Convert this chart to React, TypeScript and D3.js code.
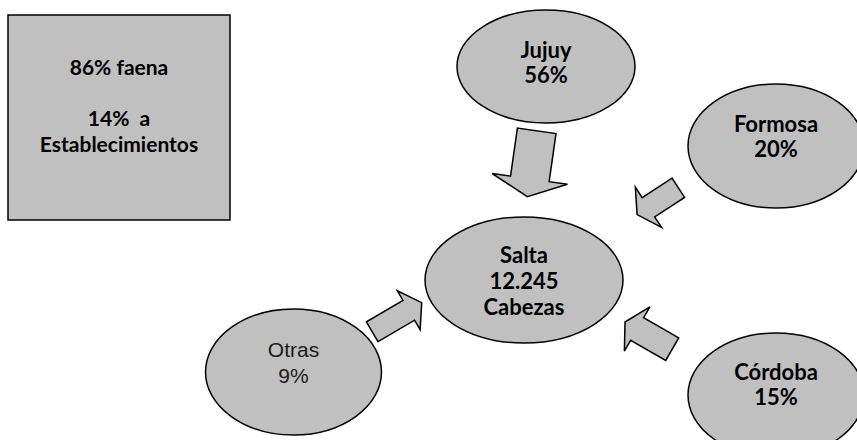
import React from "react";
import * as d3 from "d3";

// ---- data ----
const origins = ["Jujuy", "Formosa", "Córdoba", "Otras"];
const originShares = ["56%", "20%", "15%", "9%"];
const destination = "Salta";
const destinationTotal = "12.245";
const destinationUnit = "Cabezas";
const destinoLines = ["86% faena", "", "14%\u00a0\u00a0a", "Establecimientos"];

// ---- layout (positions / styles only) ----
const W = 857;
const H = 440;
const FILL = "#c0c0c0";
const BOLD = "Lato, 'Open Sans', sans-serif";

type Node = { cx: number; cy: number; rx: number; ry: number; dy: number; regular?: boolean };
const originLayout: Node[] = [
  { cx: 546, cy: 66.5, rx: 89, ry: 56.5, dy: -8.5 },
  { cx: 776, cy: 146, rx: 88, ry: 62, dy: -14 },
  { cx: 776, cy: 395, rx: 88, ry: 62, dy: -15 },
  { cx: 293.5, cy: 372, rx: 88, ry: 63, dy: -15, regular: true },
];
const destLayout: Node = { cx: 524, cy: 280, rx: 99, ry: 63, dy: -17 };

type Arrow = { t: [number, number]; p: [number, number]; sw: number; hw: number; hl: number };
const arrowLayout: Arrow[] = [
  { t: [536.7, 130.8], p: [527.3, 196.7], sw: 39, hw: 76, hl: 18 },
  { t: [678.3, 187.8], p: [637.1, 214.6], sw: 23, hw: 48, hl: 13.5 },
  { t: [672.2, 349.2], p: [625, 322], sw: 26, hw: 51, hl: 14 },
  { t: [372.2, 331.7], p: [421.7, 302.7], sw: 23, hw: 45, hl: 15 },
];

function arrowPoints(a: Arrow): [number, number][] {
  const [tx, ty] = a.t;
  const [px, py] = a.p;
  const L = Math.hypot(px - tx, py - ty);
  const ux = (px - tx) / L;
  const uy = (py - ty) / L;
  const nx = -uy;
  const ny = ux;
  const hx = px - ux * a.hl;
  const hy = py - uy * a.hl;
  const s = a.sw / 2;
  const h = a.hw / 2;
  return [
    [tx + nx * s, ty + ny * s],
    [hx + nx * s, hy + ny * s],
    [hx + nx * h, hy + ny * h],
    [px, py],
    [hx - nx * h, hy - ny * h],
    [hx - nx * s, hy - ny * s],
    [tx - nx * s, ty - ny * s],
  ];
}

const lineGen = d3.line<[number, number]>().curve(d3.curveLinearClosed);

function Label({ x, y, lines, regular, lh }: { x: number; y: number; lines: string[]; regular?: boolean; lh: number }) {
  return (
    <text
      x={x}
      y={y}
      textAnchor="middle"
      fontFamily={regular ? "'Liberation Sans', Arial, sans-serif" : BOLD}
      fontWeight={regular ? 400 : 700}
      fontSize={regular ? 21 : 22}
      fill={regular ? "#1a1a1a" : "#000"}
    >
      {lines.map((l, i) => (
        <tspan key={i} x={x} y={y + i * lh}>
          {l === "" ? "\u00a0" : l}
        </tspan>
      ))}
    </text>
  );
}

export default function App() {
  return (
    <svg
      width={W}
      height={H}
      style={{ position: "absolute", left: 0, top: 0, background: "#fff" }}
    >
      {/* box */}
      <rect x={8} y={15} width={222} height={205} fill={FILL} stroke="#000" strokeWidth={1.5} />
      <text textAnchor="middle" fontFamily={BOLD} fontWeight={700} fontSize={21} fill="#000">
        {destinoLines.map((l, i) => (
          <tspan key={i} x={119} y={75 + i * 25.5}>
            {l === "" ? "\u00a0" : l}
          </tspan>
        ))}
      </text>

      {/* arrows */}
      {arrowLayout.map((a, i) => (
        <path key={"a" + i} d={lineGen(arrowPoints(a)) || ""} fill={FILL} stroke="#000" strokeWidth={1.5} strokeLinejoin="miter" />
      ))}

      {/* destination */}
      <ellipse cx={destLayout.cx} cy={destLayout.cy} rx={destLayout.rx} ry={destLayout.ry} fill={FILL} stroke="#000" strokeWidth={1.5} />
      <Label x={destLayout.cx} y={destLayout.cy + destLayout.dy} lines={[destination, destinationTotal, destinationUnit]} lh={26} />

      {/* origins */}
      {origins.map((name, i) => {
        const n = originLayout[i];
        return (
          <g key={name}>
            <ellipse cx={n.cx} cy={n.cy} rx={n.rx} ry={n.ry} fill={FILL} stroke="#000" strokeWidth={1.5} />
            <Label x={n.cx} y={n.cy + n.dy} lines={[name, originShares[i]]} regular={n.regular} lh={n.regular ? 26 : 24.5} />
          </g>
        );
      })}
    </svg>
  );
}
